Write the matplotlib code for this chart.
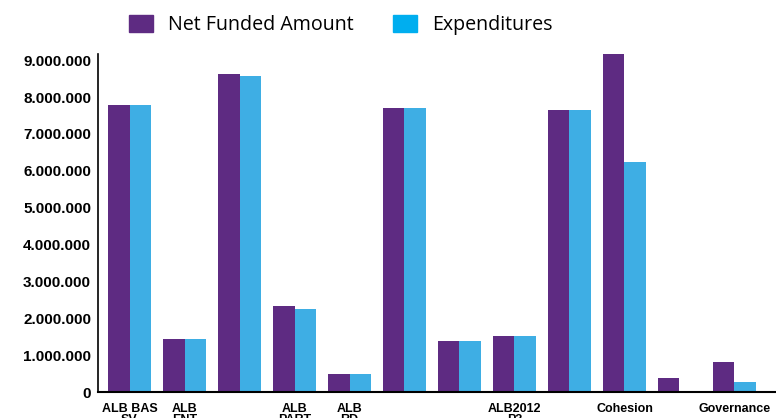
import matplotlib
matplotlib.use("Agg")
import matplotlib.pyplot as plt
import numpy as np
from matplotlib.patches import Patch
from matplotlib.ticker import FuncFormatter

# programmes (only some of them get a label under the axis)
categorias = ["ALB BAS\nSV", "ALB\nENT", "", "ALB\nPART", "ALB\nRD", "", "",
              "ALB2012\nP3", "", "Cohesion", "", "Governance"]
net_funded = [7780000, 1440000, 8620000, 2330000, 490000, 7700000,
              1380000, 1520000, 7640000, 9160000, 380000, 810000]
expenditures = [7780000, 1440000, 8560000, 2250000, 490000, 7700000,
                1380000, 1520000, 7640000, 6230000, 0, 270000]

morado = "#5e2b82"
celeste = "#3eaee4"

fig = plt.figure(figsize=(7.76, 4.18), dpi=100)
ax = fig.add_axes([98/776, 1-392/418, 1-98/776, (392-54)/418])

x = np.arange(len(categorias))
ancho = 0.39
ax.bar(x - ancho/2, net_funded, ancho, color=morado)
ax.bar(x + ancho/2, expenditures, ancho, color=celeste)

ax.set_xlim(-0.573, 11.755)
ax.set_ylim(0, 9170000)
ax.set_yticks(np.arange(0, 9000001, 1000000))
# separador de miles con punto
ax.yaxis.set_major_formatter(FuncFormatter(lambda v, p: f"{int(v):,}".replace(",", ".")))
ax.set_xticks(x)
ax.set_xticklabels(categorias, fontsize=9, fontweight="bold",
                   family=["Liberation Sans Narrow", "Liberation Sans", "DejaVu Sans"],
                   linespacing=0.9, va="top")
for lab in ax.get_yticklabels():
    lab.set_family(["Liberation Sans", "DejaVu Sans"])
    lab.set_fontweight("bold")
    lab.set_fontsize(11)
ax.tick_params(axis="both", length=0, colors="black")
ax.tick_params(axis="y", pad=5)
ax.tick_params(axis="x", pad=8)

for s in ["top", "right"]:
    ax.spines[s].set_visible(False)
ax.spines["left"].set_linewidth(1.2)
ax.spines["bottom"].set_linewidth(1.5)

handles = [Patch(color=morado, label="Net Funded Amount"),
           Patch(color="#00aeef", label="Expenditures")]
fig.legend(handles=handles, loc="upper left", bbox_to_anchor=(111/776, 1.006),
           ncol=2, frameon=False, handlelength=1.25, handleheight=0.95,
           handletextpad=0.75, columnspacing=2.0,
           prop={"family": ["Open Sans", "DejaVu Sans"], "size": 14.1})

fig.savefig("out.png", dpi=100)
